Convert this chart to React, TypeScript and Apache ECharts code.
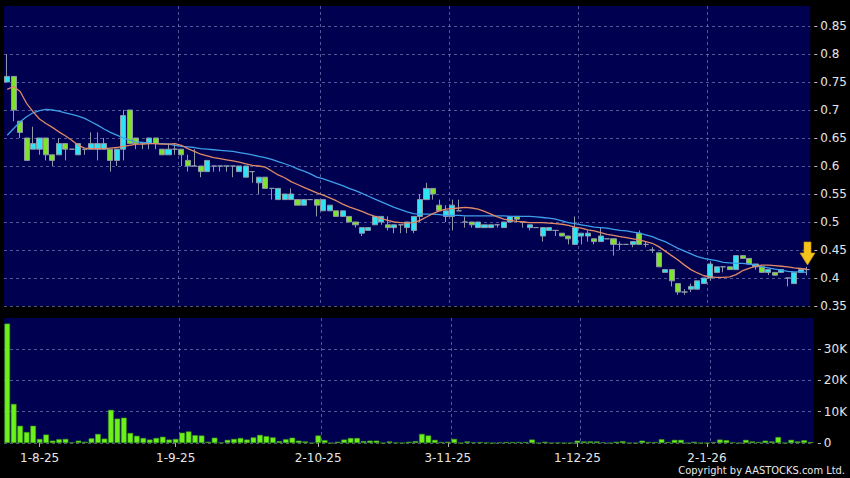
import React, { useEffect, useRef } from 'react';
import * as echarts from 'echarts';

// Trading days (month -> days)
const tradingDays: [string, number[]][] = [
  ['2025-07', [25, 28, 29, 30, 31]],
  ['2025-08', [1, 4, 5, 6, 7, 8, 11, 12, 13, 14, 15, 18, 19, 20, 21, 22, 25, 26, 27, 28, 29]],
  ['2025-09', [1, 2, 3, 4, 5, 8, 9, 10, 11, 12, 15, 16, 17, 18, 19, 22, 23, 24, 25, 26, 29, 30]],
  ['2025-10', [2, 3, 6, 8, 9, 10, 13, 14, 15, 16, 17, 20, 21, 22, 23, 24, 27, 28, 30, 31]],
  ['2025-11', [3, 4, 5, 6, 7, 10, 11, 12, 13, 14, 17, 18, 19, 20, 21, 24, 25, 26, 27, 28]],
  ['2025-12', [1, 2, 3, 4, 5, 8, 9, 10, 11, 12, 15, 16, 17, 18, 19, 22, 23, 24, 29, 30]],
  ['2026-01', [2, 5, 6, 7, 8, 9, 12, 13, 14, 15, 16, 19, 20, 21, 22, 23, 26]],
];
const categories: string[] = tradingDays.flatMap(([m, ds]) =>
  ds.map((d) => `${m}-${String(d).padStart(2, '0')}`)
);

const labelDates = ['2025-08-01', '2025-09-01', '2025-10-02', '2025-11-03', '2025-12-01', '2026-01-02'];

const opens = [
  0.75, 0.76, 0.68, 0.65, 0.63, 0.63, 0.65, 0.62, 0.62, 0.64,
  0.63, 0.62, 0.63, 0.63, 0.63, 0.63, 0.63, 0.61, 0.63, 0.70,
  0.65, 0.64, 0.64, 0.65, 0.63, 0.62, 0.63, 0.63, 0.61, 0.60,
  0.60, 0.59, 0.60, 0.60, 0.60, 0.60, 0.59, 0.58, 0.59, 0.57,
  0.58, 0.56, 0.54, 0.54, 0.54, 0.54, 0.53, 0.54, 0.54, 0.52,
  0.52, 0.52, 0.51, 0.51, 0.50, 0.48, 0.485, 0.495, 0.50, 0.495,
  0.49, 0.495, 0.49, 0.485, 0.51, 0.54, 0.56, 0.53, 0.51, 0.51,
  0.52, 0.50, 0.50, 0.49, 0.49, 0.49, 0.495, 0.49, 0.50, 0.51,
  0.50, 0.49, 0.49, 0.475, 0.485, 0.485, 0.48, 0.475, 0.46, 0.475,
  0.475, 0.47, 0.465, 0.47, 0.47, 0.46, 0.46, 0.46, 0.48, 0.46,
  0.45, 0.445, 0.41, 0.415, 0.39, 0.375, 0.38, 0.38, 0.39, 0.40,
  0.41, 0.42, 0.42, 0.415, 0.44, 0.435, 0.42, 0.42, 0.41, 0.41,
  0.41, 0.40, 0.39, 0.41, 0.415,
];
const closes = [
  0.76, 0.70, 0.66, 0.61, 0.64, 0.65, 0.62, 0.61, 0.64, 0.63,
  0.63, 0.64, 0.63, 0.64, 0.64, 0.64, 0.61, 0.63, 0.69, 0.64,
  0.64, 0.64, 0.65, 0.64, 0.62, 0.63, 0.63, 0.62, 0.60, 0.60,
  0.59, 0.61, 0.60, 0.60, 0.60, 0.60, 0.60, 0.60, 0.59, 0.58,
  0.56, 0.56, 0.56, 0.55, 0.55, 0.53, 0.54, 0.54, 0.53, 0.54,
  0.53, 0.51, 0.52, 0.50, 0.495, 0.49, 0.49, 0.51, 0.51, 0.49,
  0.495, 0.495, 0.50, 0.51, 0.54, 0.56, 0.55, 0.52, 0.52, 0.53,
  0.52, 0.50, 0.495, 0.50, 0.495, 0.495, 0.495, 0.50, 0.51, 0.505,
  0.50, 0.495, 0.49, 0.49, 0.49, 0.485, 0.475, 0.47, 0.49, 0.48,
  0.48, 0.465, 0.475, 0.47, 0.46, 0.46, 0.46, 0.465, 0.46, 0.46,
  0.45, 0.42, 0.415, 0.395, 0.375, 0.375, 0.385, 0.395, 0.40, 0.425,
  0.42, 0.42, 0.415, 0.44, 0.435, 0.425, 0.425, 0.41, 0.415, 0.405,
  0.415, 0.40, 0.41, 0.415, 0.415,
];
const lows = [
  0.75, 0.68, 0.65, 0.61, 0.63, 0.62, 0.61, 0.60, 0.62, 0.61,
  0.63, 0.62, 0.62, 0.63, 0.61, 0.63, 0.59, 0.60, 0.61, 0.64,
  0.63, 0.63, 0.63, 0.63, 0.62, 0.62, 0.62, 0.60, 0.59, 0.60,
  0.58, 0.59, 0.59, 0.59, 0.59, 0.58, 0.59, 0.58, 0.57, 0.55,
  0.56, 0.54, 0.54, 0.54, 0.54, 0.53, 0.53, 0.54, 0.51, 0.52,
  0.52, 0.51, 0.51, 0.50, 0.49, 0.475, 0.485, 0.495, 0.495, 0.485,
  0.48, 0.48, 0.48, 0.48, 0.50, 0.54, 0.54, 0.52, 0.50, 0.485,
  0.52, 0.49, 0.49, 0.49, 0.49, 0.49, 0.49, 0.49, 0.50, 0.50,
  0.49, 0.485, 0.49, 0.465, 0.485, 0.475, 0.475, 0.46, 0.46, 0.46,
  0.465, 0.46, 0.465, 0.47, 0.44, 0.45, 0.46, 0.455, 0.46, 0.455,
  0.445, 0.42, 0.41, 0.385, 0.37, 0.37, 0.375, 0.38, 0.39, 0.395,
  0.41, 0.41, 0.415, 0.415, 0.435, 0.425, 0.415, 0.41, 0.405, 0.405,
  0.41, 0.385, 0.39, 0.41, 0.405,
];
const highs = [
  0.80, 0.76, 0.68, 0.65, 0.67, 0.65, 0.65, 0.62, 0.65, 0.64,
  0.63, 0.64, 0.63, 0.66, 0.66, 0.65, 0.63, 0.63, 0.70, 0.70,
  0.65, 0.64, 0.65, 0.65, 0.63, 0.64, 0.64, 0.63, 0.62, 0.63,
  0.60, 0.61, 0.60, 0.60, 0.60, 0.60, 0.60, 0.60, 0.59, 0.58,
  0.58, 0.56, 0.56, 0.55, 0.56, 0.54, 0.54, 0.54, 0.54, 0.54,
  0.53, 0.52, 0.52, 0.51, 0.50, 0.49, 0.49, 0.51, 0.51, 0.51,
  0.495, 0.495, 0.50, 0.51, 0.55, 0.57, 0.56, 0.54, 0.53, 0.54,
  0.54, 0.51, 0.50, 0.50, 0.495, 0.495, 0.495, 0.50, 0.51, 0.51,
  0.50, 0.495, 0.49, 0.49, 0.49, 0.485, 0.48, 0.475, 0.51, 0.48,
  0.485, 0.47, 0.49, 0.47, 0.47, 0.465, 0.46, 0.465, 0.485, 0.465,
  0.455, 0.445, 0.415, 0.415, 0.39, 0.38, 0.39, 0.395, 0.40, 0.43,
  0.42, 0.42, 0.42, 0.44, 0.44, 0.435, 0.425, 0.42, 0.415, 0.41,
  0.415, 0.40, 0.41, 0.415, 0.42,
];
const volumes = [
  38200, 12500, 5500, 3500, 5500, 1300, 2700, 750, 1200, 1300,
  200, 750, 400, 1500, 2900, 1400, 10600, 7800, 8100, 3200,
  2300, 1600, 1100, 1600, 2000, 1100, 1300, 3300, 3700, 2500,
  2400, 400, 1700, 100, 1000, 1300, 1600, 1100, 1800, 2600,
  2200, 1800, 600, 1200, 1700, 750, 500, 0, 2400, 900,
  0, 400, 1100, 1600, 1600, 600, 750, 750, 0, 500,
  100, 0, 400, 600, 2900, 2400, 1000, 300, 400, 1300,
  0, 500, 200, 300, 100, 0, 200, 300, 300, 300,
  300, 1100, 0, 400, 0, 100, 0, 0, 750, 500,
  500, 500, 200, 0, 400, 600, 0, 0, 750, 300,
  300, 1200, 300, 1000, 1000, 0, 400, 0, 0, 300,
  1100, 900, 200, 0, 1000, 500, 300, 750, 500, 1900,
  0, 1000, 500, 900, 300,
];
const maShort = [
  0.737, 0.742, 0.733, 0.712, 0.697, 0.684, 0.676, 0.669, 0.661, 0.654,
  0.646, 0.637, 0.632, 0.631, 0.631, 0.631, 0.632, 0.633, 0.635, 0.637,
  0.639, 0.639, 0.640, 0.640, 0.639, 0.639, 0.640, 0.637, 0.631, 0.626,
  0.621, 0.618, 0.615, 0.613, 0.611, 0.609, 0.607, 0.604, 0.601, 0.600,
  0.598, 0.591, 0.584, 0.579, 0.572, 0.567, 0.562, 0.557, 0.552, 0.548,
  0.543, 0.538, 0.532, 0.527, 0.523, 0.519, 0.514, 0.510, 0.506, 0.503,
  0.500, 0.499, 0.498, 0.499, 0.503, 0.509, 0.515, 0.520, 0.523, 0.524,
  0.525, 0.526, 0.525, 0.523, 0.519, 0.514, 0.509, 0.505, 0.503, 0.501,
  0.500, 0.499, 0.499, 0.499, 0.498, 0.497, 0.496, 0.494, 0.491, 0.489,
  0.486, 0.484, 0.481, 0.478, 0.476, 0.474, 0.472, 0.470, 0.468, 0.465,
  0.462, 0.456, 0.448, 0.440, 0.432, 0.423, 0.415, 0.409, 0.404, 0.402,
  0.401, 0.401, 0.402, 0.406, 0.413, 0.417, 0.421, 0.423, 0.423, 0.422,
  0.421, 0.420, 0.418, 0.417, 0.416,
];
const maLong = [
  0.655, 0.667, 0.679, 0.688, 0.695, 0.699, 0.701, 0.700, 0.698, 0.695,
  0.692, 0.689, 0.685, 0.679, 0.673, 0.666, 0.660, 0.655, 0.650, 0.646,
  0.643, 0.642, 0.641, 0.640, 0.640, 0.639, 0.637, 0.635, 0.634, 0.633,
  0.631, 0.630, 0.629, 0.628, 0.627, 0.626, 0.624, 0.622, 0.620, 0.617,
  0.615, 0.612, 0.608, 0.604, 0.600, 0.595, 0.591, 0.586, 0.580, 0.577,
  0.573, 0.569, 0.565, 0.560, 0.556, 0.551, 0.546, 0.541, 0.536, 0.531,
  0.526, 0.522, 0.518, 0.515, 0.514, 0.514, 0.514, 0.513, 0.512, 0.512,
  0.512, 0.511, 0.511, 0.511, 0.511, 0.511, 0.511, 0.511, 0.510, 0.510,
  0.510, 0.510, 0.509, 0.508, 0.507, 0.505, 0.502, 0.499, 0.497, 0.495,
  0.493, 0.491, 0.490, 0.489, 0.487, 0.485, 0.484, 0.482, 0.480, 0.477,
  0.474, 0.469, 0.465, 0.459, 0.453, 0.448, 0.443, 0.438, 0.435, 0.433,
  0.431, 0.428, 0.427, 0.426, 0.426, 0.425, 0.423, 0.420, 0.418, 0.416,
  0.414, 0.412, 0.411, 0.411, 0.410,
];

const FONT = '"DejaVu Sans", Verdana, sans-serif';
const GRID_LINE = { color: 'rgba(150,160,210,0.55)', type: [3, 3] as number[], width: 1 };

const labelIdx = labelDates.map((d) => categories.indexOf(d));
const splitIdx = labelIdx.map((i) => i + 1);

function fmtDate(s: string): string {
  const [y, m, d] = s.split('-');
  return `${parseInt(d, 10)}-${parseInt(m, 10)}-${y.slice(2)}`;
}

export default function App() {
  const ref = useRef<HTMLDivElement>(null);
  useEffect(() => {
    if (!ref.current) return;
    const chart = echarts.init(ref.current, undefined, { renderer: 'svg' });
    const candleData = categories.map((_, i) => [opens[i], closes[i], lows[i], highs[i]]);
    const option: any = {
      animation: false,
      backgroundColor: '#000000',
      grid: [
        { left: 4, top: 6, width: 810, height: 300, show: true, backgroundColor: '#000050', borderWidth: 0 },
        { left: 4, top: 318, width: 810, height: 125, show: true, backgroundColor: '#000050', borderWidth: 0 },
      ],
      xAxis: [
        {
          type: 'category', gridIndex: 0, data: categories, boundaryGap: true,
          axisLine: { show: false }, axisTick: { show: false }, axisLabel: { show: false },
          splitLine: {
            show: true, showMinLine: false, showMaxLine: false,
            interval: (i: number) => splitIdx.includes(i), lineStyle: GRID_LINE,
          },
        },
        {
          type: 'category', gridIndex: 1, data: categories, boundaryGap: true,
          axisLine: { show: false },
          axisTick: {
            show: true, alignWithLabel: true, length: 4,
            interval: (i: number) => labelIdx.includes(i),
            lineStyle: { color: '#b0b0b0' },
          },
          axisLabel: {
            show: true, interval: (i: number) => labelIdx.includes(i),
            formatter: (v: string) => fmtDate(v), color: '#e6e6e6',
            fontFamily: FONT, fontSize: 12, margin: 9,
          },
          splitLine: {
            show: true, showMinLine: false, showMaxLine: false,
            interval: (i: number) => splitIdx.includes(i), lineStyle: GRID_LINE,
          },
        },
      ],
      yAxis: [
        {
          type: 'value', gridIndex: 0, position: 'right', offset: 4,
          min: 0.35, max: 0.35 + 300 / 560, interval: 0.05, scale: true,
          axisLine: { show: false },
          axisTick: { show: true, length: 3, lineStyle: { color: '#c0c0c0' } },
          axisLabel: {
            show: true, showMaxLabel: false, margin: 6, color: '#e6e6e6', fontFamily: FONT, fontSize: 12,
            formatter: (v: number) => {
              const k = v * 20;
              if (Math.abs(k - Math.round(k)) > 1e-6) return '';
              return String(+v.toFixed(2));
            },
          },
          splitLine: { show: true, showMaxLine: false, lineStyle: GRID_LINE },
        },
        {
          type: 'value', gridIndex: 1, position: 'right', offset: 4,
          min: 0, max: 39990, interval: 10000,
          axisLine: { show: false },
          axisTick: { show: true, length: 3, lineStyle: { color: '#c0c0c0' } },
          axisLabel: {
            show: true, showMaxLabel: false, margin: 6, color: '#e6e6e6', fontFamily: FONT, fontSize: 12,
            formatter: (v: number) => (v === 0 ? '0' : v % 10000 === 0 && v < 39990 ? `${v / 1000}K` : ''),
          },
          splitLine: { show: true, showMaxLine: false, lineStyle: GRID_LINE },
        },
      ],
      series: [
        {
          type: 'candlestick', xAxisIndex: 0, yAxisIndex: 0, data: candleData, barWidth: 5.6,
          itemStyle: {
            color: '#2ee4f2', color0: '#7ee32a',
            borderColor: '#8e9aa8', borderColor0: '#8e9aa8', borderColorDoji: '#8e9aa8', borderWidth: 1,
          },
          z: 2,
        },
        {
          type: 'line', xAxisIndex: 0, yAxisIndex: 0, data: maLong, symbol: 'none', showSymbol: false,
          lineStyle: { color: '#3d9fea', width: 1.3 }, z: 3,
        },
        {
          type: 'line', xAxisIndex: 0, yAxisIndex: 0, data: maShort, symbol: 'none', showSymbol: false,
          lineStyle: { color: '#e08a66', width: 1.3 }, z: 4,
        },
        {
          type: 'bar', xAxisIndex: 1, yAxisIndex: 1, data: volumes, barWidth: 5.6,
          itemStyle: { color: '#6cf21a', borderColor: '#3f9d14', borderWidth: 0.6 },
        },
      ],
      graphic: [
        {
          type: 'polygon', z: 10,
          shape: {
            points: [[804, 242], [811, 242], [811, 253], [815, 253], [807.5, 265], [800, 253], [804, 253]],
          },
          style: { fill: '#f5c21b', stroke: '#d69a00', lineWidth: 0.6 },
        },
        {
          type: 'text', right: 5, top: 465, z: 10,
          style: {
            text: 'Copyright by AASTOCKS.com Ltd.', fill: '#e8e8e8',
            font: '11px "DejaVu Sans Condensed", "Liberation Sans Narrow", sans-serif',
          },
        },
      ],
    };
    chart.setOption(option);
    return () => chart.dispose();
  }, []);
  return (
    <div
      ref={ref}
      style={{ position: 'fixed', left: 0, top: 0, width: 850, height: 478, background: '#000' }}
    />
  );
}
